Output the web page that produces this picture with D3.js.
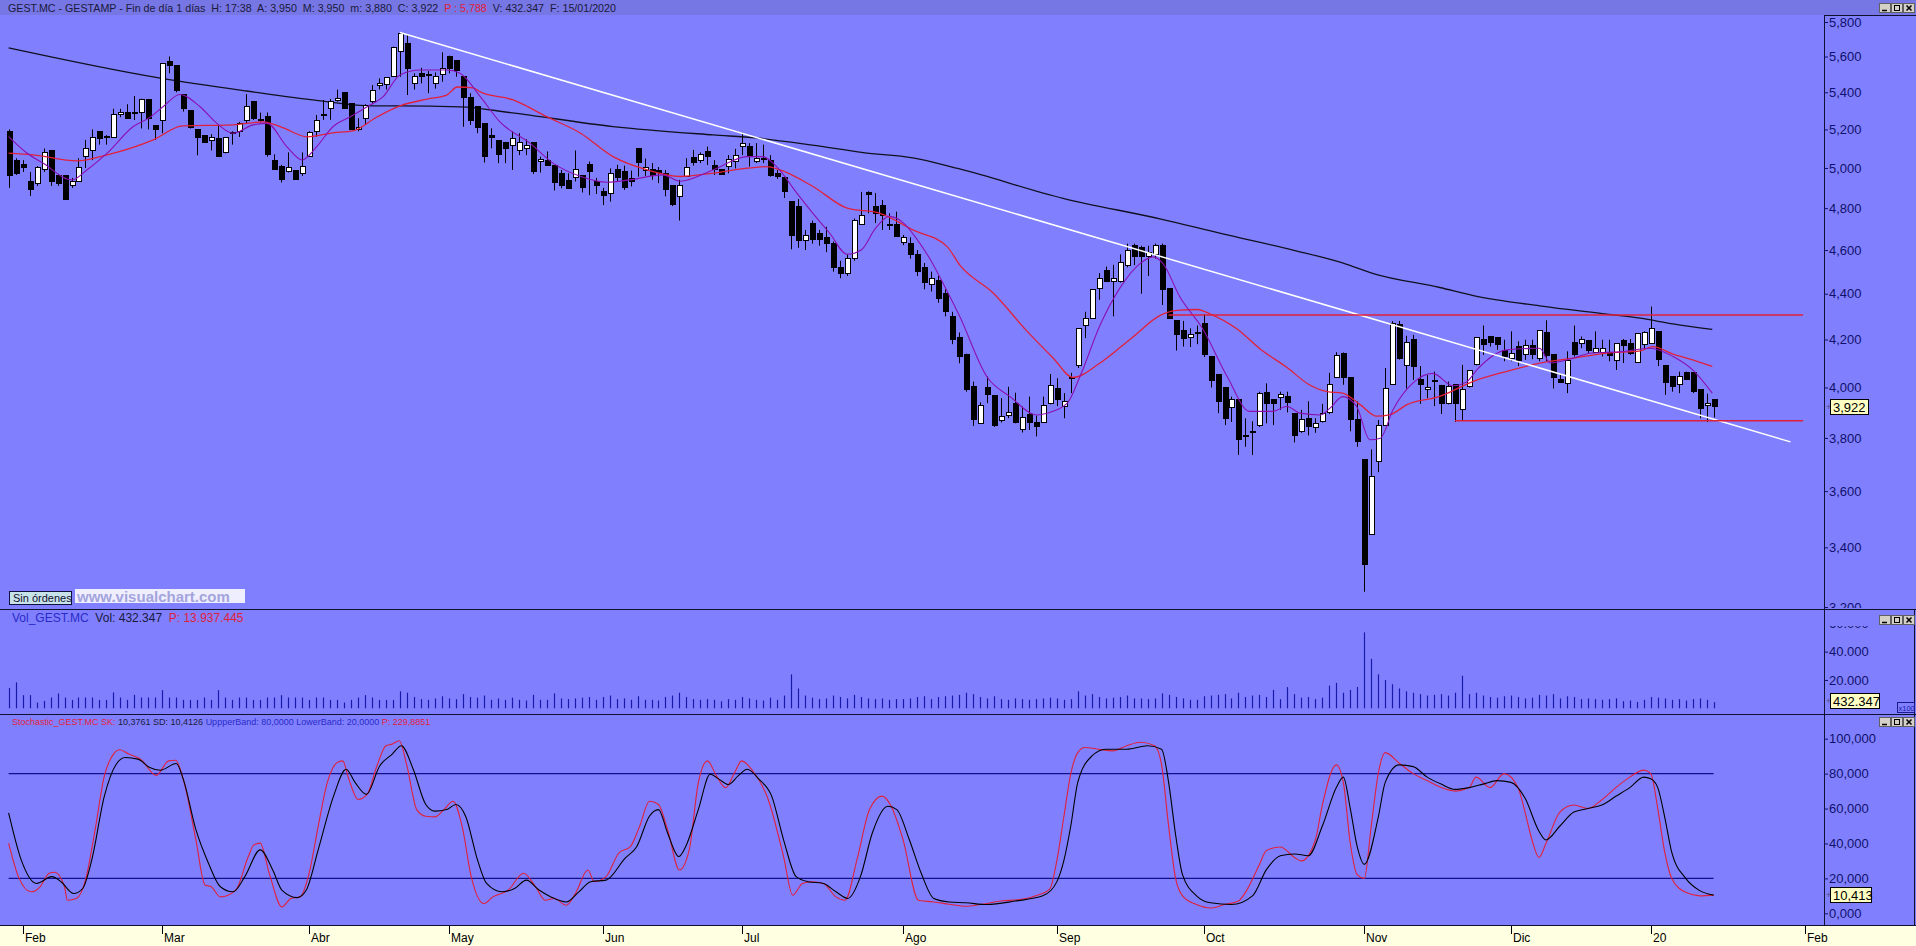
<!DOCTYPE html>
<html><head><meta charset="utf-8">
<script src="https://cdn.jsdelivr.net/npm/d3@7"></script>
<style>
body{margin:0;background:#8080ff;overflow:hidden}
svg{display:block}
text{font-family:"Liberation Sans",Arial,sans-serif}
</style></head>
<body><svg id="c" width="1916" height="946"></svg>
<script>
// ---------------- DATA ----------------
const monthLabels = ["Feb","Mar","Abr","May","Jun","Jul","Ago","Sep","Oct","Nov","Dic","20","Feb"];
const monthIdx    = [2,22,43,63,85,105,128,150,171,194,215,235,257];

const candleOpen = [5.19,5.04,5.02,4.93,4.92,4.99,5.09,4.96,4.96,4.91,4.93,5.06,5.09,5.19,5.165,5.16,5.28,5.29,5.285,5.29,
5.36,5.22,5.25,5.57,5.55,5.39,5.30,5.20,5.17,5.14,5.15,5.08,5.18,5.19,5.25,5.35,5.255,5.27,5.04,5.01,
4.98,4.985,4.97,5.06,5.19,5.275,5.31,5.355,5.40,5.34,5.20,5.26,5.35,5.44,5.445,5.49,5.63,5.675,5.45,5.505,
5.495,5.45,5.50,5.60,5.58,5.49,5.37,5.32,5.23,5.17,5.14,5.13,5.115,5.09,5.10,5.13,5.035,5.04,5.015,4.97,
4.935,4.95,4.96,5.016,4.93,4.88,4.87,4.99,4.98,4.945,5.10,4.985,4.99,4.985,4.97,4.91,4.855,4.955,5.055,5.04,
5.085,5.015,4.99,5.01,5.035,5.113,5.11,5.035,5.045,5.04,4.97,4.95,4.835,4.81,4.645,4.725,4.68,4.66,4.63,4.52,
4.49,4.56,4.72,4.877,4.806,4.813,4.723,4.723,4.635,4.63,4.58,4.52,4.44,4.46,4.40,4.30,4.21,4.135,4.005,3.855,
4.00,3.967,3.867,3.888,3.937,3.832,3.89,3.862,3.86,3.937,3.994,3.925,4.035,4.092,4.259,4.291,4.425,4.503,4.453,4.455,
4.53,4.62,4.61,4.57,4.58,4.62,4.425,4.28,4.24,4.21,4.228,4.27,4.13,4.055,4.00,3.921,3.953,3.81,3.825,3.847,
3.98,3.953,3.959,3.963,3.895,3.826,3.877,3.84,3.866,3.899,4.042,4.142,4.04,3.873,3.716,3.446,3.712,3.847,4.011,4.264,
4.091,4.199,4.031,3.99,4.025,4.01,3.934,4.011,3.913,4.003,4.095,4.199,4.213,4.21,4.152,4.121,4.17,4.135,4.174,4.121,
4.231,4.138,4.031,4.017,4.189,4.181,4.195,4.146,4.145,4.143,4.111,4.195,4.185,4.105,4.178,4.181,4.235,4.092,4.047,4.011,
4.062,4.063,3.993,3.927,3.95];
const candleHigh = [5.20,5.05,5.04,4.98,5.01,5.10,5.09,4.97,4.96,4.95,5.05,5.145,5.20,5.19,5.17,5.31,5.31,5.335,5.38,5.365,
5.36,5.22,5.56,5.60,5.55,5.39,5.30,5.20,5.17,5.175,5.225,5.16,5.19,5.24,5.39,5.35,5.29,5.29,5.07,5.016,
5.08,4.985,5.08,5.19,5.277,5.358,5.363,5.415,5.40,5.34,5.26,5.335,5.44,5.477,5.483,5.656,5.738,5.727,5.505,5.536,
5.518,5.51,5.624,5.605,5.58,5.49,5.395,5.32,5.233,5.206,5.14,5.13,5.19,5.18,5.148,5.13,5.058,5.085,5.015,4.99,
4.973,5.09,4.96,5.033,4.95,4.90,4.998,5.016,5.012,4.987,5.10,5.048,5.025,5.005,4.99,4.91,4.94,5.05,5.093,5.08,
5.11,5.04,4.99,5.066,5.098,5.183,5.128,5.128,5.12,5.066,4.99,4.956,4.835,4.845,4.695,4.74,4.695,4.71,4.64,4.55,
4.58,4.75,4.88,4.883,4.874,4.84,4.775,4.783,4.671,4.66,4.60,4.54,4.50,4.48,4.42,4.32,4.23,4.14,4.024,3.94,
4.045,3.97,3.957,4.003,3.979,3.923,3.963,3.887,3.963,4.055,4.038,3.977,4.06,4.248,4.32,4.42,4.493,4.523,4.531,4.58,
4.63,4.63,4.62,4.62,4.63,4.63,4.425,4.28,4.28,4.248,4.26,4.31,4.13,4.055,4.00,3.963,3.953,3.877,3.865,3.983,
4.017,3.953,3.983,3.983,3.895,3.91,3.944,3.877,3.934,4.06,4.146,4.145,4.04,3.944,3.716,3.756,3.87,4.08,4.279,4.28,
4.216,4.22,4.088,4.052,4.065,4.011,4.024,4.011,4.093,4.072,4.21,4.26,4.215,4.21,4.199,4.235,4.192,4.199,4.199,4.24,
4.283,4.138,4.058,4.15,4.26,4.213,4.195,4.235,4.199,4.199,4.185,4.202,4.202,4.226,4.235,4.343,4.235,4.092,4.047,4.065,
4.065,4.063,3.993,3.975,3.95];
const candleLow = [4.90,4.965,4.98,4.86,4.91,4.98,4.91,4.91,4.84,4.90,4.93,5.00,5.04,5.12,5.12,5.16,5.265,5.26,5.25,5.205,
5.20,5.145,5.18,5.505,5.40,5.295,5.205,5.065,5.13,5.09,5.06,5.075,5.12,5.16,5.233,5.25,5.24,5.058,4.99,4.927,
4.977,4.94,4.96,5.06,5.162,5.251,5.251,5.349,5.313,5.197,5.19,5.229,5.34,5.415,5.415,5.486,5.486,5.385,5.415,5.449,
5.395,5.42,5.458,5.505,5.486,5.214,5.224,5.18,5.028,5.101,5.025,5.025,4.99,5.066,5.066,4.97,4.977,5.015,4.887,4.898,
4.895,4.932,4.877,4.864,4.87,4.815,4.832,4.932,4.89,4.907,4.956,4.96,4.94,4.924,4.858,4.81,4.74,4.955,5.012,5.025,
5.015,4.965,4.965,4.973,4.998,5.066,5.007,5.025,5.025,4.956,4.945,4.85,4.603,4.61,4.60,4.63,4.62,4.59,4.50,4.47,
4.48,4.55,4.72,4.775,4.728,4.695,4.695,4.663,4.623,4.56,4.48,4.42,4.41,4.36,4.30,4.18,4.10,3.983,3.847,3.854,
3.937,3.843,3.86,3.877,3.857,3.821,3.831,3.806,3.86,3.932,3.925,3.877,3.977,4.08,4.206,4.291,4.373,4.453,4.30,4.45,
4.52,4.53,4.40,4.48,4.56,4.35,4.291,4.153,4.17,4.168,4.18,4.126,4.00,3.897,3.85,3.862,3.735,3.766,3.735,3.843,
3.857,3.85,3.91,3.90,3.783,3.82,3.81,3.82,3.86,3.894,4.042,4.011,3.826,3.766,3.25,3.446,3.67,3.847,4.011,4.115,
3.996,4.031,3.934,3.957,3.925,3.894,3.932,3.862,3.868,4.00,4.091,4.135,4.17,4.156,4.108,4.108,4.088,4.114,4.117,4.108,
4.108,3.996,4.02,3.977,4.128,4.163,4.143,4.143,4.128,4.108,4.072,4.101,4.135,4.101,4.156,4.181,4.088,3.97,3.983,3.977,
4.031,3.977,3.877,3.862,3.88];
const candleClose = [4.96,4.97,5.00,4.89,5.00,5.08,4.93,4.92,4.84,4.93,5.00,5.10,5.16,5.15,5.16,5.28,5.29,5.26,5.29,5.36,
5.26,5.20,5.56,5.55,5.41,5.31,5.21,5.16,5.13,5.16,5.06,5.16,5.182,5.23,5.32,5.26,5.25,5.07,4.99,4.94,
5.00,4.94,5.01,5.185,5.25,5.28,5.35,5.365,5.31,5.20,5.21,5.33,5.41,5.45,5.48,5.65,5.73,5.53,5.49,5.49,
5.50,5.49,5.53,5.53,5.52,5.37,5.25,5.21,5.06,5.16,5.07,5.10,5.15,5.13,5.115,4.98,5.045,5.015,4.925,4.91,
4.895,4.99,4.90,4.98,4.91,4.86,4.97,4.95,4.90,4.93,5.03,5.00,4.96,4.975,4.89,4.82,4.91,5.00,5.03,5.07,
5.06,4.99,4.965,5.045,5.065,5.128,5.065,5.05,5.049,4.96,4.955,4.88,4.67,4.645,4.67,4.65,4.65,4.63,4.52,4.49,
4.56,4.74,4.765,4.866,4.775,4.762,4.714,4.666,4.66,4.58,4.50,4.45,4.47,4.38,4.32,4.20,4.13,3.99,3.87,3.927,
3.97,3.847,3.884,3.90,3.86,3.88,3.862,3.845,3.927,4.008,3.95,3.944,4.04,4.248,4.291,4.42,4.47,4.453,4.467,4.54,
4.60,4.57,4.57,4.59,4.62,4.42,4.291,4.22,4.205,4.22,4.232,4.135,4.03,3.945,3.877,3.953,3.795,3.81,3.825,3.975,
3.935,3.937,3.973,3.94,3.81,3.871,3.845,3.858,3.897,4.011,4.131,4.04,3.871,3.787,3.342,3.653,3.85,3.994,4.269,4.118,
4.189,4.088,4.014,3.999,4.029,3.937,4.005,3.934,3.99,4.068,4.21,4.178,4.188,4.18,4.128,4.139,4.112,4.173,4.138,4.239,
4.131,4.039,4.021,4.111,4.138,4.202,4.154,4.163,4.16,4.131,4.185,4.174,4.139,4.226,4.228,4.248,4.114,4.021,4.003,4.047,
4.034,3.983,3.917,3.937,3.922];

// volume, in hundreds of shares (axis "x100")
const volume = [14280,18330,9280,9280,4050,5240,7620,10470,7620,5950,7620,7620,7620,5950,5950,11190,7620,5950,9520,7620,
7620,7620,12850,7620,7620,5950,5950,5950,7620,5950,12850,7620,5950,7620,7620,5950,5950,7620,7620,9280,
7620,7620,7620,5950,7620,7620,5950,5950,4050,5950,7620,9280,7620,5950,5950,5950,12000,11000,8000,6500,
6000,7000,8500,7000,6500,10000,8000,7500,9000,6000,7000,6000,7500,6000,5500,9500,6000,6000,10500,7000,
6500,7000,7500,8000,6000,8000,9000,6500,7000,6000,8500,6000,6000,5500,8000,9000,11000,8000,6500,6000,
6500,6000,5000,6500,6000,8000,7000,6000,5500,7500,6000,9000,24000,14000,9000,7500,6500,7000,9000,8000,
7000,9500,8000,7000,6500,7000,6000,6500,6500,7000,8000,8500,6500,8000,8500,9000,9500,11000,10000,8000,
7000,8500,6500,6000,7000,6500,6000,6500,7000,7500,7000,6000,6500,12000,9000,10000,8000,7000,7500,8000,
9000,7000,7000,6500,7000,10500,9500,8000,7000,6000,6000,8500,9000,9500,10000,7000,11000,8000,9000,9500,
8000,13000,6500,15000,10000,7500,8000,6500,7500,16000,18000,11000,13000,15000,53600,35000,24000,20000,17000,14000,
12000,11000,10000,9000,9500,10000,9000,11000,23000,10000,11000,9000,8000,7500,8500,9000,8000,7000,7500,9500,
9000,10000,7000,8500,8000,6500,7000,6500,6000,6500,7000,5000,5500,4500,6000,8000,7500,7000,6000,6500,
5500,6500,7000,6000,4323];

// moving averages: bar index / price
const ma200Idx = [0,21.7,34,44.6,52,56,64.6,71.8,86.5,100.8,107,115,122.3,129.4,136.1,150.9,164.9,173.6,183.8,191,195.3,204.8,209.6,219.1,228.7,233.5,238.2,243.8];
const ma200Val = [5.649,5.478,5.407,5.353,5.326,5.326,5.321,5.290,5.215,5.171,5.155,5.118,5.079,5.052,4.995,4.848,4.747,4.677,4.600,4.539,4.491,4.428,4.392,4.346,4.310,4.292,4.267,4.243];

const maRedIdx = [0,3.5,9.8,14.1,20.7,24.9,32.1,36.4,39.3,42.7,46.4,49.3,52.7,56,59.9,62.7,64.2,66.5,67.5,72.2,77,81.8,86.5,91.4,96.1,100.8,105.7,108.5,110.4,115.1,120,124.7,129.4,134.3,136.1,140.9,145.7,149.5,152.3,156.2,160.9,164.8,167.2,170.1,171.9,175.8,179.1,182.9,186.2,188.7,190.9,193.4,195.8,197.7,200.1,204.8,209.6,214.4,219.1,223.9,228.7,233.5,235.3,238.2,241,243.8];
const maRedVal = [5.076,5.067,5.036,5.067,5.145,5.219,5.224,5.240,5.208,5.161,5.182,5.192,5.266,5.326,5.363,5.385,5.429,5.424,5.402,5.358,5.268,5.181,5.058,4.990,4.957,4.974,4.999,5.007,4.990,4.907,4.800,4.775,4.695,4.616,4.531,4.403,4.237,4.121,4.041,4.101,4.211,4.304,4.326,4.330,4.311,4.245,4.160,4.083,4.010,3.983,3.977,3.931,3.885,3.891,3.931,3.964,4.025,4.066,4.100,4.121,4.142,4.152,4.170,4.138,4.114,4.087];

const maPurpleIdx = [0,2.6,4.9,9.1,11.2,14.1,17.8,20.2,22.1,24.5,27.4,29.8,32.1,35,37,39.8,42,44.1,46.4,48.9,51.3,53.6,56,58.9,62.7,64.6,67.5,70.3,74.6,77.9,81.8,85.6,88.9,93.6,96.1,100.8,105.7,107.9,109.9,112.8,115.1,117.5,120,122,124,126,128,130,132,134,136.1,140,143.3,147.2,148.6,151.5,153.3,156.2,159,161.9,163.8,165.2,167.6,170.9,174.4,177.6,180.9,182.9,184.8,187.7,189.1,190.9,192.9,194.8,196.3,198.1,200.9,203.8,206.7,208.7,210.1,214.4,219.1,220.6,223.9,226.3,231,234.9,238.2,241,243.8];
const maPurpleVal = [5.162,5.077,5.025,4.940,4.990,5.076,5.214,5.264,5.321,5.388,5.321,5.232,5.180,5.224,5.232,5.110,5.041,5.110,5.214,5.267,5.321,5.376,5.496,5.524,5.524,5.505,5.376,5.240,5.128,5.025,4.958,4.928,4.940,4.965,4.933,4.990,5.058,5.058,5.007,4.874,4.775,4.679,4.580,4.600,4.700,4.760,4.730,4.650,4.550,4.430,4.300,4.044,3.963,3.890,3.897,3.937,4.044,4.262,4.424,4.537,4.568,4.537,4.387,4.245,4.044,3.904,3.904,3.924,3.897,3.890,3.917,3.963,3.924,3.793,3.799,3.910,4.017,4.058,4.007,4.024,4.072,4.156,4.163,4.101,4.121,4.142,4.149,4.163,4.128,4.072,3.977];

// stochastic (SK red, SD black): bar index / value
const stochKIdx = [0,1.4,3.2,4.5,5.8,6.6,8,8.4,9.7,11,12.3,13.7,15,15.9,17.2,18.9,21.1,22.9,23.9,25,26.8,28.1,29,30.3,32.5,34.3,35.1,36,37.3,39.1,40.4,41.7,43,44.3,45.6,47,47.8,48.7,50,51.3,52.7,54,54.9,55.9,57,58.4,59.7,61,62.3,63.6,64.9,66.2,68,69.3,71.5,73.7,75.4,76.8,78.1,79.8,81.1,82.9,83.8,85.5,87.3,89,90.3,91.7,93,94.3,96,97.4,98.7,100,101.3,102.6,103.9,104.9,106.5,108.7,110.9,112.2,113.6,114.9,116.6,118.4,119.7,121.4,123.2,125,126.3,128,130.2,132.4,134.6,137,139,142,145,147,149,150,151,152,153,154,156,158,160,162,164,165,166,167,168,170,172,174,176,177,179,180,182,184,185,187,188,190,191,192,193,194,195,196,197,199,201,203,205,207,209,210,212,214,216,217,218,219,220,222,224,226,228,230,232,234,235,236,237,238,240,242,244];
const stochKVal = [40.2,21,12.3,15.2,22.9,23.5,15.2,7.5,8.5,19,46,78.7,91.2,93.7,91.2,88.3,79,87.3,87.7,76.7,42.1,16.2,15.2,9.4,13.3,32.5,39.2,40.2,22.9,3.7,8.5,9.4,22.9,49.8,74.8,86.3,87.3,76.7,65.2,68.1,84.4,96,96.9,98.8,84.4,59.4,55.6,55.2,59.4,64.2,49.8,21,5.6,9.4,13.3,22.9,15.2,7.5,8.5,4.6,11.3,24.8,18.1,21,34.4,38.3,49.8,64.2,62.3,47.9,24.8,36.3,74.8,87.3,78.7,71.9,80.6,87.3,81.5,65.2,32.5,10.4,17.1,18.1,17.1,9.4,7.5,30.6,59.4,67.1,61.3,42.1,7.5,6.5,5.2,4,5,7,8,10,14,30,55,80,92,95,94,93,96,98,96,85,50,20,10,5,3,5,7,12,28,36,38,32,30,42,62,85,75,40,22,20,50,80,92,86,80,76,72,70,72,78,72,80,72,58,42,32,40,58,62,60,65,72,78,82,80,60,35,20,12,10,10.4];
const stochDIdx = [0,1.8,4,6.2,7.5,9.3,10.6,11.9,13.7,15.4,16.7,18.5,20.2,21.7,24,25,26.8,28.6,30.3,32.1,33.8,36,37.8,39.1,41.3,42.6,44.3,46.5,48.3,49.6,51.2,53.1,54.9,56.2,57.9,59.7,61,62.7,64,65.4,67.1,68.4,70.6,72.4,74.1,75.9,77.6,79.8,81.6,83.3,85.5,88.2,89.9,91.7,93,94.3,95.9,96.9,98.7,100.4,101.7,103,104.4,105.7,107.4,109.2,110.9,112.7,114.4,116.6,118.4,120.1,121.9,123.6,125.8,127.1,128.9,130.6,132.4,134.6,137,140,144,148,150,151,152,153,155,157,160,163,165,166,167,168,170,172,175,178,180,182,184,186,188,190,191,192,193,194,196,197,199,201,203,205,207,209,211,213,215,217,219,220,222,224,226,228,230,232,234,235,236,237,238,240,242,244];
const stochDVal = [57.5,30.6,17.1,21,18.1,11.3,14.2,30.6,67.1,85.4,89.2,88.3,83.5,81.9,85.8,76.7,47.9,28.7,15.2,12.3,21,36.3,24.8,13.3,9,13.3,36.3,67.1,82.5,74.8,68.1,84.4,91.2,96,82.5,62.3,58.5,59.4,62.3,55.6,30.6,17.1,12.3,14.2,19,13.3,9.4,6.5,12.3,18.1,19,31.5,38.3,55.6,59.4,46,32.5,38.3,59.4,79.6,76.7,73.8,78.7,82.5,76.7,67.1,42.1,21,18.1,17.1,12.3,8.5,21,46,61.3,59.4,42.1,22.9,8.5,6.5,6,5,7,10,18,30,50,75,90,94,94,96,94,75,45,22,10,6,5,10,25,33,34,33,50,72,78,60,38,28,55,75,85,84,78,74,71,72,74,76,75,66,47,42,50,58,60,62,67,72,78,77,72,55,35,20,13,10.4];

const stochBands = [20, 80];
const priceTicks = [3.2,3.4,3.6,3.8,4.0,4.2,4.4,4.6,4.8,5.0,5.2,5.4,5.6,5.8];
const volTicks   = [20000,40000,60000];
const stochTicks = [0,20,40,60,80,100];

// drawn studies
const trendIdx = [56, 255], trendVal = [5.738, 3.785];
const resistIdx = [166, 256.8], resistVal = 4.306;
const supportIdx = [207, 256.8], supportVal = 3.867;

// ---------------- DRAW ----------------
const W = 1916, H = 946, AX = 1824;
const svg = d3.select("#c");
const x  = d3.scaleLinear().domain([0,257]).range([8.62,1804.5]);
const yP = d3.scaleLog().domain([3.2,5.8]).range([607,22]);
const yV = d3.scaleLinear().domain([0,60000]).range([708.3,623.3]);
const yS = d3.scaleLinear().domain([0,100]).range([913.3,738.7]);

const defs = svg.append("defs");
function clip(id,x0,y0,w,h){defs.append("clipPath").attr("id",id).append("rect").attr("x",x0).attr("y",y0).attr("width",w).attr("height",h);}
clip("cp",0,15,AX,593); clip("cv",0,610,AX,103); clip("cs",0,715,AX,210);
clip("ap",AX,15,92,593); clip("av",AX,626,92,87); clip("as",AX,715,92,210);

svg.append("rect").attr("width",W).attr("height",H).attr("fill","#8080ff");
svg.append("rect").attr("width",W).attr("height",15).attr("fill","#7676e4");

// header
const hdr = svg.append("text").attr("x",8).attr("y",11.5).attr("font-size",10.7).attr("fill","#1a1a3a").style("white-space","pre");
hdr.append("tspan").text("GEST.MC - GESTAMP - Fin de día 1 días  H: 17:38  A: 3,950  M: 3,950  m: 3,880  C: 3,922  ");
hdr.append("tspan").attr("fill","#e0203a").text("P : 5,788");
hdr.append("tspan").text("  V: 432.347  F: 15/01/2020");

// ---- price panel
const gp = svg.append("g").attr("clip-path","url(#cp)");
const idx = d3.range(candleOpen.length);
const lineP = d3.line().x(d=>x(d[0])).y(d=>yP(d[1])).curve(d3.curveMonotoneX);

gp.append("path").datum(ma200Idx.map((v,k)=>[v,ma200Val[k]])).attr("d",lineP)
  .attr("fill","none").attr("stroke","#101020").attr("stroke-width",1.3);

// candles
gp.selectAll("line.wick").data(idx).join("line").attr("class","wick")
  .attr("x1",i=>Math.round(x(i))+0.5).attr("x2",i=>Math.round(x(i))+0.5)
  .attr("y1",i=>yP(candleHigh[i])).attr("y2",i=>yP(candleLow[i]))
  .attr("stroke","#000").attr("stroke-width",1);
gp.selectAll("rect.body").data(idx).join("rect").attr("class","body")
  .attr("x",i=>Math.round(x(i))-2)
  .attr("y",i=>yP(Math.max(candleOpen[i],candleClose[i])))
  .attr("width",5)
  .attr("height",i=>Math.max(1,Math.abs(yP(candleOpen[i])-yP(candleClose[i]))))
  .attr("fill",i=>candleClose[i]>=candleOpen[i]?"#ffffff":"#000000")
  .attr("stroke","#000").attr("stroke-width",1).attr("shape-rendering","crispEdges");

gp.append("path").datum(maRedIdx.map((v,k)=>[v,maRedVal[k]])).attr("d",lineP)
  .attr("fill","none").attr("stroke","#e0203a").attr("stroke-width",1.3);
gp.append("path").datum(maPurpleIdx.map((v,k)=>[v,maPurpleVal[k]])).attr("d",lineP)
  .attr("fill","none").attr("stroke","#8a10b0").attr("stroke-width",1.1);

// trend line and levels
gp.append("line").attr("x1",x(trendIdx[0])).attr("y1",yP(trendVal[0])).attr("x2",x(trendIdx[1])).attr("y2",yP(trendVal[1]))
  .attr("stroke","#ffffff").attr("stroke-width",1.5);
gp.append("line").attr("x1",x(resistIdx[0])).attr("x2",x(resistIdx[1])).attr("y1",yP(resistVal)).attr("y2",yP(resistVal))
  .attr("stroke","#e0203a").attr("stroke-width",1.3);
gp.append("line").attr("x1",x(supportIdx[0])).attr("x2",x(supportIdx[1])).attr("y1",yP(supportVal)).attr("y2",yP(supportVal))
  .attr("stroke","#e0203a").attr("stroke-width",1.3);

// Sin órdenes / watermark
svg.append("rect").attr("x",9.5).attr("y",591.5).attr("width",62).attr("height",13).attr("fill","#c8e2ea").attr("stroke","#101040");
svg.append("text").attr("x",13).attr("y",602).attr("font-size",11).attr("fill","#101030").text("Sin órdenes");
svg.append("rect").attr("x",75).attr("y",589).attr("width",170).attr("height",14).attr("fill","#eeeeff");
svg.append("text").attr("x",77).attr("y",601.5).attr("font-size",15).attr("font-weight","bold").attr("fill","#a4a4dc").text("www.visualchart.com");

// ---- volume panel
const gv = svg.append("g").attr("clip-path","url(#cv)");
gv.selectAll("line").data(idx).join("line")
  .attr("x1",i=>Math.round(x(i))+0.5).attr("x2",i=>Math.round(x(i))+0.5)
  .attr("y1",yV(0)).attr("y2",i=>yV(volume[i]))
  .attr("stroke","#1a1aa8").attr("stroke-width",1.2);
const vl = svg.append("text").attr("x",12).attr("y",621.5).attr("font-size",12).style("white-space","pre");
vl.append("tspan").attr("fill","#2a2ac8").text("Vol_GEST.MC ");
vl.append("tspan").attr("fill","#1a1a3a").text(" Vol: 432.347 ");
vl.append("tspan").attr("fill","#e0203a").text(" P: 13.937.445");

// ---- stochastic panel
const gs = svg.append("g").attr("clip-path","url(#cs)");
stochBands.forEach(b=>{
  gs.append("line").attr("x1",x(0)).attr("x2",x(244)).attr("y1",yS(b)).attr("y2",yS(b))
    .attr("stroke","#10108a").attr("stroke-width",1.4);
});
const lineS = d3.line().x(d=>x(d[0])).y(d=>yS(d[1])).curve(d3.curveMonotoneX);
gs.append("path").datum(stochKIdx.map((v,k)=>[v,stochKVal[k]])).attr("d",lineS)
  .attr("fill","none").attr("stroke","#e0203a").attr("stroke-width",1.1);
gs.append("path").datum(stochDIdx.map((v,k)=>[v,stochDVal[k]])).attr("d",lineS)
  .attr("fill","none").attr("stroke","#000").attr("stroke-width",1.1);
const sl = svg.append("text").attr("x",12).attr("y",724.5).attr("font-size",9).style("white-space","pre");
sl.append("tspan").attr("fill","#e0203a").text("Stochastic_GEST.MC SK: ");
sl.append("tspan").attr("fill","#1a1a3a").text("10,3761 SD: 10,4126 ");
sl.append("tspan").attr("fill","#2a2ac8").text("UppperBand: 80,0000 LowerBand: 20,0000 ");
sl.append("tspan").attr("fill","#e0203a").text("P: 229,8851");

// ---- separators & axis frame
[609,714].forEach(yy=>svg.append("line").attr("x1",0).attr("x2",W).attr("y1",yy+0.5).attr("y2",yy+0.5).attr("stroke","#101030").attr("stroke-width",1.2));
svg.append("line").attr("x1",AX+0.5).attr("x2",AX+0.5).attr("y1",15).attr("y2",925).attr("stroke","#101030");
svg.append("line").attr("x1",AX).attr("x2",W).attr("y1",15.5).attr("y2",15.5).attr("stroke","#101030");
svg.append("line").attr("x1",W-1.5).attr("x2",W-1.5).attr("y1",610).attr("y2",925).attr("stroke","#101030");

// axes
const fmtP = v=>v.toFixed(3).replace(".",",");
const fmtV = v=>d3.format(",")(v).replace(/,/g,".");
function styleAxis(g){g.select(".domain").remove();g.selectAll("text").attr("fill","#10106a").attr("font-size",13).attr("font-family","Liberation Sans, Arial, sans-serif");g.selectAll("line").attr("stroke","#10106a");}
svg.append("g").attr("clip-path","url(#ap)").append("g").attr("transform",`translate(${AX},0)`)
  .call(d3.axisRight(yP).tickValues(priceTicks).tickFormat(fmtP).tickSize(4).tickPadding(1)).call(styleAxis);
svg.append("g").attr("clip-path","url(#av)").append("g").attr("transform",`translate(${AX},0)`)
  .call(d3.axisRight(yV).tickValues(volTicks).tickFormat(fmtV).tickSize(4).tickPadding(1)).call(styleAxis);
svg.append("g").attr("clip-path","url(#as)").append("g").attr("transform",`translate(${AX},0)`)
  .call(d3.axisRight(yS).tickValues(stochTicks).tickFormat(fmtP).tickSize(4).tickPadding(1)).call(styleAxis);

// value boxes
function vbox(yc,w,txt){
  svg.append("text").attr("x",AX+2).attr("y",yc+3).attr("font-size",9).attr("fill","#505070").text("+");
  svg.append("rect").attr("x",AX+6.5).attr("y",Math.round(yc)-7.5).attr("width",w).attr("height",15).attr("fill","#ffffc4").attr("stroke","#000");
  svg.append("text").attr("x",AX+9).attr("y",yc+5).attr("font-size",13).attr("fill","#000").text(txt);
}
vbox(yP(candleClose[244]),38,fmtP(candleClose[244]));
vbox(700.5,49,"432.347");
vbox(yS(stochDVal[stochDVal.length-1]),41,"10,413");
svg.append("rect").attr("x",1897.5).attr("y",702.5).attr("width",17).attr("height",10).attr("fill","#8080ff").attr("stroke","#1a1a8a");
svg.append("text").attr("x",1898.5).attr("y",710.5).attr("font-size",7.5).attr("fill","#1a1aa8").text("x100");

// window buttons
function winBtns(y0){
  const xs=[1879,1891,1903];
  xs.forEach((bx,k)=>{
    svg.append("rect").attr("x",bx+0.5).attr("y",y0+0.5).attr("width",11).attr("height",9).attr("fill","#d4d0c8").attr("stroke","#606060");
    if(k===0) svg.append("line").attr("x1",bx+3).attr("x2",bx+8).attr("y1",y0+7.5).attr("y2",y0+7.5).attr("stroke","#000").attr("stroke-width",1.5);
    if(k===1) svg.append("rect").attr("x",bx+3.5).attr("y",y0+2.5).attr("width",5).attr("height",5).attr("fill","none").attr("stroke","#000");
    if(k===2){svg.append("path").attr("d",`M${bx+3.5},${y0+2.5}L${bx+8.5},${y0+7.5}M${bx+8.5},${y0+2.5}L${bx+3.5},${y0+7.5}`).attr("stroke","#000").attr("stroke-width",1.5);}
  });
}
winBtns(3); winBtns(615); winBtns(717);

// ---- x axis strip
svg.append("rect").attr("x",0).attr("y",925).attr("width",W).attr("height",21).attr("fill","#ffffe1");
svg.append("line").attr("x1",0).attr("x2",W).attr("y1",925.5).attr("y2",925.5).attr("stroke","#101030");
const gx = svg.append("g");
gx.selectAll("line").data(monthIdx).join("line")
  .attr("x1",d=>Math.round(x(d))+0.5).attr("x2",d=>Math.round(x(d))+0.5).attr("y1",926).attr("y2",934).attr("stroke","#000");
gx.selectAll("text").data(monthIdx).join("text")
  .attr("x",d=>Math.round(x(d))+2).attr("y",942).attr("font-size",12).attr("fill","#000")
  .attr("font-family","Liberation Sans Narrow, Liberation Sans, Arial, sans-serif")
  .text((d,k)=>monthLabels[k]);
</script>
</body></html>
